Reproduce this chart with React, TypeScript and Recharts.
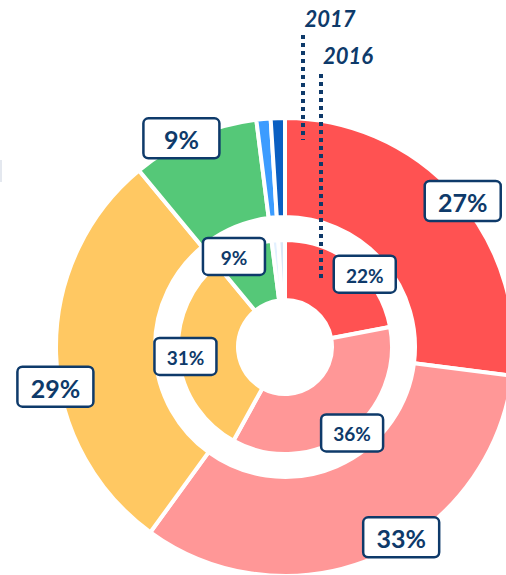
import { PieChart, Pie, Cell } from "recharts";

const SEGMENTS = ["A", "B", "C", "D", "E", "F"];
const VALUES_2017 = [27, 33, 29, 9, 1, 1];
const VALUES_2016 = [22, 36, 31, 9, 1, 1];
const YEARS = ["2017", "2016"];

const COLORS = ["#ff5252", "#ff9797", "#ffc862", "#55c878", "#3c9cff", "#0a5fc2"];
const NAVY = "#0e3a6a";
const RADIAN = Math.PI / 180;

const outerData = SEGMENTS.map((name, i) => ({ name, value: VALUES_2017[i] }));
const innerData = SEGMENTS.map((name, i) => ({ name, value: VALUES_2016[i] }));

// small hand nudges so the boxes sit where the original put them
const OUTER_NUDGE = [
  { a: 2, r: 1 },
  { a: -8, r: -6 },
  { a: -8, r: 4 },
  { a: -3, r: 4 },
];
const INNER_NUDGE = [
  { a: 8, r: 1 },
  { a: -2, r: 2 },
  { a: 0, r: -7 },
  { a: -6, r: -3 },
];

function makeLabel(nudges: { a: number; r: number }[], w: number, h: number, fontSize: number) {
  return (props: any) => {
    const { cx, cy, midAngle, outerRadius, index, value } = props;
    if (index >= nudges.length) return null;
    const n = nudges[index];
    const ang = (midAngle - n.a) * RADIAN;
    const r = outerRadius + n.r;
    const x = cx + r * Math.cos(-ang);
    const y = cy + r * Math.sin(-ang);
    return (
      <g key={`lbl-${index}`}>
        <rect
          x={x - w / 2}
          y={y - h / 2}
          width={w}
          height={h}
          rx={5}
          fill="#fff"
          stroke={NAVY}
          strokeWidth={2.5}
        />
        <text
          x={x}
          y={y + 1}
          textAnchor="middle"
          dominantBaseline="central"
          fill={NAVY}
          fontSize={fontSize}
          fontWeight={700}
          fontFamily="Lato, 'Open Sans', sans-serif"
        >
          {`${value}%`}
        </text>
      </g>
    );
  };
}

export default function App() {
  return (
    <div style={{ position: "absolute", left: 0, top: 0, width: 506, height: 575 }}>
      <PieChart width={506} height={575} margin={{ top: 0, right: 0, bottom: 0, left: 0 }}>
        <Pie
          data={outerData}
          dataKey="value"
          cx={285}
          cy={347}
          innerRadius={130}
          outerRadius={229}
          startAngle={90}
          endAngle={-270}
          stroke="#fff"
          strokeWidth={4}
          isAnimationActive={false}
          labelLine={false}
          label={makeLabel(OUTER_NUDGE, 76, 40, 25)}
        >
          {outerData.map((_, i) => (
            <Cell key={i} fill={COLORS[i]} />
          ))}
        </Pie>
        <Pie
          data={innerData}
          dataKey="value"
          cx={285}
          cy={347}
          innerRadius={47}
          outerRadius={107}
          startAngle={90}
          endAngle={-270}
          stroke="#fff"
          strokeWidth={4}
          isAnimationActive={false}
          labelLine={false}
          label={makeLabel(INNER_NUDGE, 62, 37, 19)}
        >
          {innerData.map((_, i) => (
            <Cell key={i} fill={COLORS[i]} fillOpacity={i >= 4 ? 0.15 : 1} />
          ))}
        </Pie>
      </PieChart>
      {/* year markers go on top of the rings */}
      <svg
        width={506}
        height={575}
        style={{ position: "absolute", left: 0, top: 0, pointerEvents: "none" }}
      >
        <rect x={0} y={160} width={2} height={22} fill="#e4e8ef" />
        <line x1={303} y1={35} x2={303} y2={140} stroke={NAVY} strokeWidth={4} strokeDasharray="4 4" />
        <line x1={321} y1={74} x2={321} y2={279} stroke={NAVY} strokeWidth={4} strokeDasharray="4 4" />
        <text
          x={330}
          y={27}
          textAnchor="middle"
          fill={NAVY}
          fontSize={22}
          fontWeight={700}
          fontStyle="italic"
          fontFamily="Lato, 'Open Sans', sans-serif"
        >
          {YEARS[0]}
        </text>
        <text
          x={348}
          y={64}
          textAnchor="middle"
          fill={NAVY}
          fontSize={22}
          fontWeight={700}
          fontStyle="italic"
          fontFamily="Lato, 'Open Sans', sans-serif"
        >
          {YEARS[1]}
        </text>
      </svg>
    </div>
  );
}
